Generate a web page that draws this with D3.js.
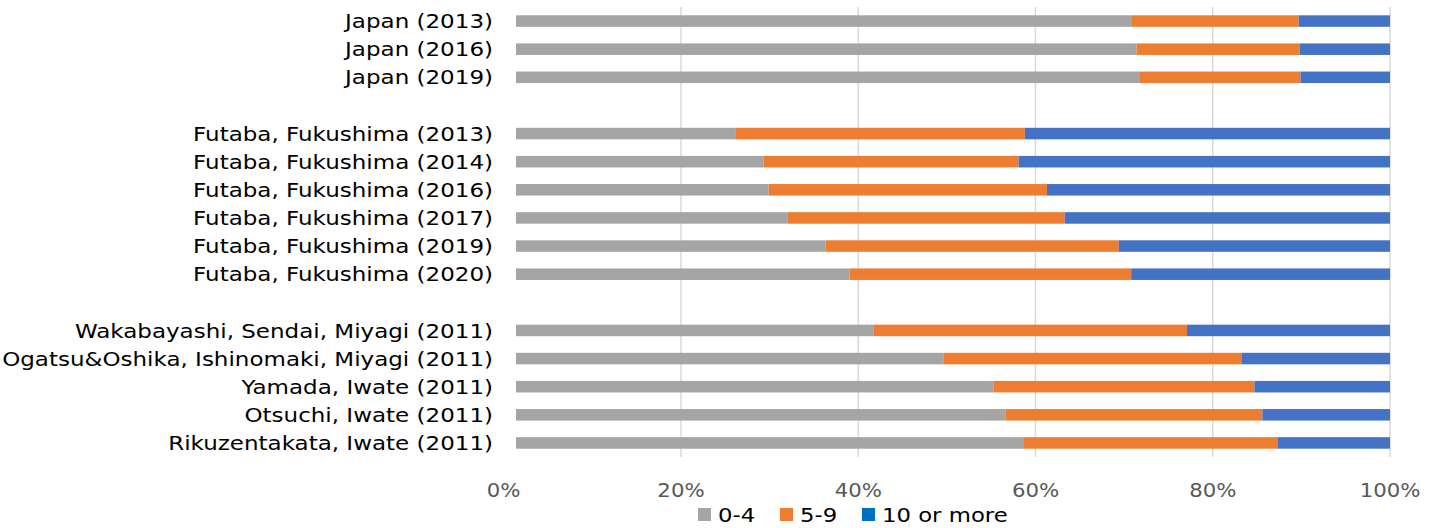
<!DOCTYPE html>
<html>
<head>
<meta charset="utf-8">
<script src="https://cdn.jsdelivr.net/npm/d3@7"></script>
<style>
  html, body { margin: 0; padding: 0; background: #fff; }
  svg { display: block; }
  text { font-family: "DejaVu Sans", Verdana, sans-serif; }
</style>
</head>
<body>
<svg id="chart" width="1435" height="528"></svg>
<script>
// ---- data ----
const categories = [
  "Japan (2013)", "Japan (2016)", "Japan (2019)", "",
  "Futaba, Fukushima (2013)", "Futaba, Fukushima (2014)", "Futaba, Fukushima (2016)",
  "Futaba, Fukushima (2017)", "Futaba, Fukushima (2019)", "Futaba, Fukushima (2020)", " ",
  "Wakabayashi, Sendai, Miyagi (2011)", "Ogatsu&Oshika, Ishinomaki, Miyagi (2011)",
  "Yamada, Iwate (2011)", "Otsuchi, Iwate (2011)", "Rikuzentakata, Iwate (2011)"
];
const age0to4 = [70.8, 71.4, 71.7, null, 26.2, 29.3, 29.9, 32.0, 36.3, 39.0, null, 41.7, 49.6, 55.3, 56.6, 58.7];
const age5to9 = [18.9, 18.4, 18.2, null, 32.6, 28.8, 31.4, 31.3, 33.1, 31.8, null, 35.4, 33.7, 29.4, 29.0, 28.6];
const age10plus = [10.3, 10.2, 10.1, null, 41.2, 41.9, 38.7, 36.7, 30.6, 29.2, null, 22.9, 16.7, 15.3, 14.4, 12.7];
const seriesNames = ["0-4", "5-9", "10 or more"];
const tickValues = [0, 20, 40, 60, 80, 100];

// ---- layout ----
const svg = d3.select("#chart");
const barColors = ["#A5A5A5", "#ED7D31", "#4472C4"];
const legendColors = ["#A5A5A5", "#ED7D31", "#0070C0"];
const wideText = 1.168;   // horizontal stretch to mimic the wider original face
const wideTicks = 1.09;

const x = d3.scaleLinear().domain([0, 100]).range([503.7, 1390]);
const y = d3.scaleBand().domain(categories).range([7, 457]).paddingInner(0.59).paddingOuter(0.295);

// gridlines
svg.append("g").selectAll("line").data(tickValues.filter(d => d > 0)).join("line")
  .attr("x1", d => x(d)).attr("x2", d => x(d))
  .attr("y1", 7).attr("y2", 457)
  .attr("stroke", "#D9D9D9").attr("stroke-width", 1.5);

// stacked data
const rows = categories.map((c, i) => ({ cat: c, "0-4": age0to4[i], "5-9": age5to9[i], "10 or more": age10plus[i] }))
  .filter(r => r["0-4"] != null);
const stack = d3.stack().keys(seriesNames).offset(d3.stackOffsetExpand);
const stacked = stack(rows);

svg.append("clipPath").attr("id", "plotclip")
  .append("rect").attr("x", x(0) + 12.3).attr("y", 0).attr("width", x(100) - x(0)).attr("height", 470);

const gBars = svg.append("g").attr("clip-path", "url(#plotclip)");
gBars.selectAll("g").data(stacked).join("g")
  .attr("fill", (d, i) => barColors[i])
  .selectAll("rect").data(d => d).join("rect")
  .attr("x", d => x(d[0] * 100))
  .attr("width", d => x(d[1] * 100) - x(d[0] * 100))
  .attr("y", d => y(d.data.cat))
  .attr("height", y.bandwidth());

// category labels
svg.append("g").selectAll("text").data(categories.filter(c => c.trim() !== "")).join("text")
  .attr("transform", d => `translate(493,${y(d) + y.bandwidth() / 2}) scale(${wideText},1)`)
  .attr("dy", "0.36em")
  .attr("text-anchor", "end")
  .attr("font-size", 19.7)
  .attr("fill", "#000")
  .text(d => d);

// x axis tick labels
svg.append("g").selectAll("text").data(tickValues).join("text")
  .attr("transform", d => `translate(${x(d)},490) scale(${wideTicks},1)`)
  .attr("dy", "0.36em")
  .attr("text-anchor", "middle")
  .attr("font-size", 19.5)
  .attr("fill", "#595959")
  .text(d => d + "%");

// legend
const legendX = [698, 780, 862];
const lg = svg.append("g").selectAll("g").data(seriesNames).join("g")
  .attr("transform", (d, i) => `translate(${legendX[i]},515)`);
lg.append("rect").attr("x", 0).attr("y", -7).attr("width", 13).attr("height", 13)
  .attr("fill", (d, i) => legendColors[i]);
lg.append("text").attr("transform", `translate(20,0) scale(${wideText},1)`).attr("dy", "0.36em")
  .attr("font-size", 19.5).attr("fill", "#000").text(d => d);
</script>
</body>
</html>
